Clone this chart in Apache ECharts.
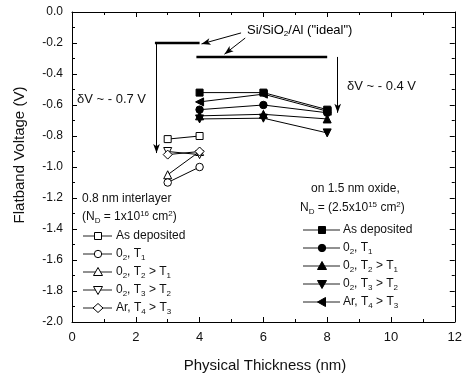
<!DOCTYPE html>
<html><head><meta charset="utf-8">
<script src="https://cdn.jsdelivr.net/npm/echarts@6/dist/echarts.min.js"></script>
<style>html,body{margin:0;padding:0;background:#fff}#c{width:465px;height:379px}</style>
</head><body><div id="c"></div>
<script>
// ---------- data ----------
const thickOpen = [3, 4];                 // nm, 0.8 nm interlayer samples
const asDepOpen = [-0.82, -0.80];
const o2t1Open  = [-1.10, -1.00];
const o2t2Open  = [-1.05, -0.90];
const o2t3Open  = [-0.90, -0.92];
const arOpen    = [-0.92, -0.90];

const thickFilled = [4, 6, 8];            // nm, on 1.5 nm oxide
const asDepFilled = [-0.52, -0.52, -0.63];
const o2t1Filled  = [-0.63, -0.60, -0.65];
const o2t2Filled  = [-0.67, -0.66, -0.69];
const o2t3Filled  = [-0.69, -0.685, -0.78];
const arFilled    = [-0.58, -0.53, -0.64];

const idealShortX = [2.6, 4.0], idealShortV = -0.20;
const idealLongX  = [3.9, 8.0], idealLongV  = -0.29;

const xTicks = [0, 2, 4, 6, 8, 10, 12];
const yTicks = [0.0, -0.2, -0.4, -0.6, -0.8, -1.0, -1.2, -1.4, -1.6, -1.8, -2.0];

// ---------- chart ----------
const FONT = 'Liberation Sans, Arial, sans-serif';
const chart = echarts.init(document.getElementById('c'), null, {renderer: 'canvas'});
const pair = (xs, ys) => xs.map((x, i) => [x, ys[i]]);

function sym(shape) {
  if (shape === 'square') return {symbol: 'rect', size: 7, rot: 0};
  if (shape === 'circle') return {symbol: 'circle', size: 7.5, rot: 0};
  if (shape === 'up') return {symbol: 'triangle', size: 8, rot: 0};
  if (shape === 'down') return {symbol: 'triangle', size: 8, rot: 180};
  if (shape === 'left') return {symbol: 'triangle', size: 8, rot: 90};
  if (shape === 'diamond') return {symbol: 'diamond', size: 9, rot: 0};
}
function mkSeries(name, xs, ys, shape, filled) {
  const s = sym(shape);
  return {
    name, type: 'line', data: pair(xs, ys),
    symbol: s.symbol, symbolSize: s.size, symbolRotate: s.rot, showAllSymbol: true,
    lineStyle: {color: '#000', width: 1},
    itemStyle: {color: filled ? '#000' : '#fff', borderColor: '#000', borderWidth: 1},
    z: 3, animation: false, silent: true
  };
}

const series = [
  mkSeries('asDepOpen', thickOpen, asDepOpen, 'square', false),
  mkSeries('o2t2Open', thickOpen, o2t2Open, 'up', false),
  mkSeries('o2t3Open', thickOpen, o2t3Open, 'down', false),
  mkSeries('arOpen', thickOpen, arOpen, 'diamond', false),
  mkSeries('o2t1Open', thickOpen, o2t1Open, 'circle', false),
  mkSeries('asDepFilled', thickFilled, asDepFilled, 'square', true),
  mkSeries('arFilled', thickFilled, arFilled, 'left', true),
  mkSeries('o2t1Filled', thickFilled, o2t1Filled, 'circle', true),
  mkSeries('o2t2Filled', thickFilled, o2t2Filled, 'up', true),
  mkSeries('o2t3Filled', thickFilled, o2t3Filled, 'down', true),
  {type: 'line', data: pair(idealShortX, [idealShortV, idealShortV]), symbol: 'none',
   lineStyle: {color: '#000', width: 2.5}, animation: false, silent: true},
  {type: 'line', data: pair(idealLongX, [idealLongV, idealLongV]), symbol: 'none',
   lineStyle: {color: '#000', width: 2.5}, animation: false, silent: true},
  {type: 'line', data: [], animation: false, silent: true,
   markLine: {
     silent: true, animation: false, symbol: ['none', 'arrow'], symbolSize: [5, 9],
     lineStyle: {color: '#000', width: 1, type: 'solid'}, label: {show: false},
     data: [
       [{coord: [2.65, -0.20]}, {coord: [2.65, -0.91]}],
       [{coord: [8.33, -0.29]}, {coord: [8.33, -0.65]}],
       [{coord: [5.30, -0.135]}, {coord: [4.06, -0.206]}],
       [{coord: [5.43, -0.168]}, {coord: [4.78, -0.272]}]
     ]
   }}
];

const axisCommon = {
  min: 0, max: 12, interval: 2,
  axisLine: {show: true, onZero: false, lineStyle: {color: '#000', width: 1}},
  axisTick: {show: true, inside: true, length: 5, lineStyle: {color: '#000'}},
  minorTick: {show: true, splitNumber: 2, length: 3, lineStyle: {color: '#000'}},
  splitLine: {show: false}
};
const yCommon = {
  type: 'value', min: -2.0, max: 0.0, interval: 0.2,
  axisLine: {show: true, onZero: false, lineStyle: {color: '#000', width: 1}},
  axisTick: {show: true, inside: true, length: 5, lineStyle: {color: '#000'}},
  minorTick: {show: true, splitNumber: 2, length: 3, lineStyle: {color: '#000'}},
  splitLine: {show: false}
};

// rich text helpers
const rich = {
  n: {fontFamily: FONT, fontSize: 12, color: '#111'},
  sub: {fontFamily: FONT, fontSize: 8, color: '#111', padding: [8, 0, 0, 0]},
  sup: {fontFamily: FONT, fontSize: 8, color: '#111', padding: [0, 0, 7, 0]}
};
function rtext(x, y, str, extra) {
  return Object.assign({type: 'text', x, y, style: {text: str, rich, font: '12px ' + FONT, fill: '#111', textVerticalAlign: 'middle'}, z: 10}, extra || {});
}
function legendMark(cx, cy, shape, filled) {
  const fill = filled ? '#000' : '#fff';
  const st = {fill, stroke: '#000', lineWidth: 1};
  if (shape === 'square') return {type: 'rect', shape: {x: cx - 3.5, y: cy - 3.5, width: 7, height: 7}, style: st, z: 11};
  if (shape === 'circle') return {type: 'circle', shape: {cx, cy, r: 3.7}, style: st, z: 11};
  if (shape === 'up') return {type: 'polygon', shape: {points: [[cx, cy - 4.5], [cx + 4.5, cy + 3.5], [cx - 4.5, cy + 3.5]]}, style: st, z: 11};
  if (shape === 'down') return {type: 'polygon', shape: {points: [[cx, cy + 4.5], [cx + 4.5, cy - 3.5], [cx - 4.5, cy - 3.5]]}, style: st, z: 11};
  if (shape === 'left') return {type: 'polygon', shape: {points: [[cx - 4.5, cy], [cx + 3.5, cy - 4.5], [cx + 3.5, cy + 4.5]]}, style: st, z: 11};
  if (shape === 'diamond') return {type: 'polygon', shape: {points: [[cx, cy - 4.5], [cx + 5, cy], [cx, cy + 4.5], [cx - 5, cy]]}, style: st, z: 11};
}
const legendLabels = [
  '{n|As deposited}',
  '{n|0}{sub|2}{n|, T}{sub|1}',
  '{n|0}{sub|2}{n|, T}{sub|2}{n| > T}{sub|1}',
  '{n|0}{sub|2}{n|, T}{sub|3}{n| > T}{sub|2}',
  '{n|Ar, T}{sub|4}{n| > T}{sub|3}'
];
const shapesOpen = ['square', 'circle', 'up', 'down', 'diamond'];
const shapesFilled = ['square', 'circle', 'up', 'down', 'left'];

const graphics = [];
function buildLegend(x0, x1, xm, xt, ys, shapes, filled) {
  ys.forEach((y, i) => {
    graphics.push({type: 'line', shape: {x1: x0, y1: y, x2: x1, y2: y}, style: {stroke: '#222', lineWidth: 1}, z: 10});
    graphics.push(legendMark(xm, y, shapes[i], filled));
    graphics.push(rtext(xt, y, legendLabels[i]));
  });
}
buildLegend(83, 112, 98, 116, [236, 254, 272, 290, 308], shapesOpen, false);
buildLegend(303, 340, 322, 343, [230, 248, 266, 284, 302], shapesFilled, true);
graphics.push(rtext(82, 199, '{n|0.8 nm interlayer}'));
graphics.push(rtext(82, 217, '{n|(N}{sub|D}{n| = 1x10}{sup|16}{n| cm}{sup|2}{n|)}'));
graphics.push(rtext(311, 189, '{n|on 1.5 nm oxide,}'));
graphics.push(rtext(300, 208, '{n|N}{sub|D}{n| = (2.5x10}{sup|15}{n| cm}{sup|2}{n|)}'));
graphics.push(rtext(247, 30, '', {style: {text: '{n|Si/SiO}{sub|2}{n|/Al ("ideal")}', rich: Object.assign({}, rich, {n: Object.assign({}, rich.n, {fontSize: 13})}), textVerticalAlign: 'middle'}}));
graphics.push({type: 'text', x: 77, y: 99, style: {text: 'δV ~ - 0.7 V', font: '13px ' + FONT, fill: '#111', textVerticalAlign: 'middle'}, z: 10});
graphics.push({type: 'text', x: 347, y: 86, style: {text: 'δV ~ - 0.4 V', font: '13px ' + FONT, fill: '#111', textVerticalAlign: 'middle'}, z: 10});
graphics.push({type: 'text', x: 265, y: 366, style: {text: 'Physical Thickness (nm)', font: '15px ' + FONT, fill: '#111', textAlign: 'center', textVerticalAlign: 'middle'}, z: 10});
graphics.push({type: 'text', x: 20, y: 155, rotation: Math.PI / 2, style: {text: 'Flatband Voltage (V)', font: '15px ' + FONT, fill: '#111', textAlign: 'center', textVerticalAlign: 'middle'}, z: 10});

chart.setOption({
  animation: false,
  backgroundColor: '#fff',
  grid: {left: 72, right: 6, top: 12, bottom: 57, containLabel: false},
  xAxis: [
    Object.assign({type: 'value', position: 'bottom',
      axisLabel: {show: true, color: '#111', fontFamily: FONT, fontSize: 13, margin: 9,
        formatter: v => xTicks.includes(v) ? String(v) : ''}}, axisCommon),
    Object.assign({type: 'value', position: 'top', axisLabel: {show: false}}, axisCommon)
  ],
  yAxis: [
    Object.assign({position: 'left',
      axisLabel: {show: true, color: '#111', fontFamily: FONT, fontSize: 12, margin: 9,
        formatter: v => { const t = yTicks.find(k => Math.abs(k - v) < 1e-6); return t === undefined ? '' : (Math.abs(t) < 1e-9 ? '0.0' : t.toFixed(1)); }}}, yCommon),
    Object.assign({position: 'right', axisLabel: {show: false}}, yCommon)
  ],
  series: series,
  graphic: graphics
});
</script></body></html>
